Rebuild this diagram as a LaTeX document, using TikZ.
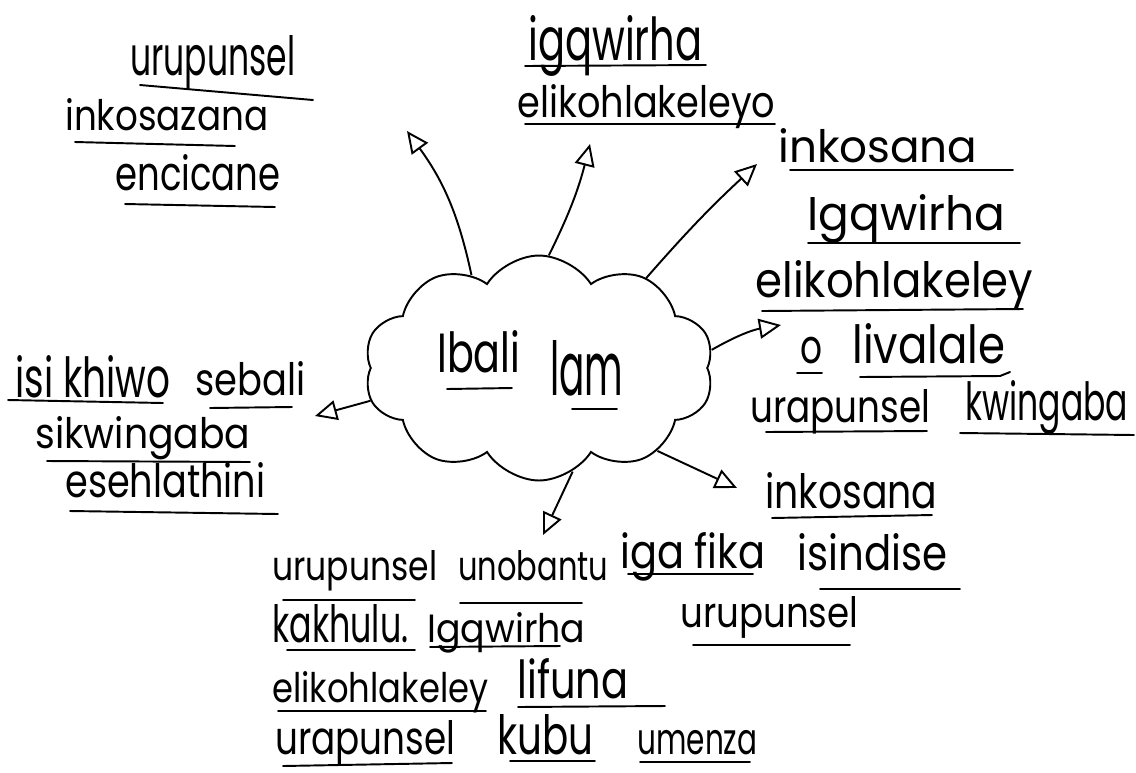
\documentclass[tikz,border=0pt]{standalone}
\usepackage{fontspec}
\usepackage{graphicx}
\usetikzlibrary{shapes.symbols,arrows.meta}
\newfontfamily\hand{Poppins}
\newlength\pix
\setlength\pix{0.02cm}
% word squeezed to the width and height it has in the sketch
\newcommand\fitw[3]{\resizebox{#1\pix}{#2\pix}{\hand\vphantom{lk}#3}}
\tikzset{
  word/.style={anchor=base west, inner sep=0pt},
  uline/.style={draw=black, line width=1.1pt, line cap=round},
  branch/.style={draw=black, line width=1.1pt,
    -{Triangle[open,length=0.44cm,width=0.40cm,line width=1.1pt]}},
  puff/.style={cloud, draw=black, line width=1.1pt, cloud puffs=10,
    cloud puff arc=115, aspect=1.6, minimum width=7.0cm, minimum height=4.5cm}
}

\begin{document}
\begin{tikzpicture}[x=0.02cm,y=-0.02cm]
  \useasboundingbox (0,0) rectangle (1136,772);
  \node[puff] (story) at (539,368) {};
  \node[word] (title1) at (437,372) {\fitw{83}{42}{Ibali}};
  \node[word] (title2) at (550,395) {\fitw{73}{55}{lam}};
  \draw[uline] (447,389) -- (512,388);
  \draw[uline] (572,409) -- (617,409);

  % top left
  \node[word] (tl1) at (130,75) {\fitw{165}{40}{urupunsel}};
  \node[word] (tl2) at (65,130) {\fitw{203}{32}{inkosazana}};
  \node[word] (tl3) at (115,190) {\fitw{165}{36}{encicane}};
  \draw[uline] (140,85) -- (313,100);
  \draw[uline] (75,142) -- (235,146);
  \draw[uline] (125,204) -- (275,207);

  % top middle
  \node[word] (tm1) at (528,60) {\fitw{174}{45}{igqwirha}};
  \node[word] (tm2) at (517,117) {\fitw{258}{33}{elikohlakeleyo}};
  \draw[uline] (525,66) -- (706,65);
  \draw[uline] (525,124) -- (775,124);

  % right
  \node[word] (tr1) at (778,162) {\fitw{199}{34}{inkosana}};
  \node[word] (tr2) at (807,230) {\fitw{198}{36}{Igqwirha}};
  \node[word] (tr3) at (755,297) {\fitw{278}{37}{elikohlakeley}};
  \node[word] (tr4) at (800,363) {\fitw{22}{35}{o}};
  \node[word] (tr5) at (852,363) {\fitw{153}{40}{livalale}};
  \node[word] (tr6) at (750,422) {\fitw{180}{33}{urapunsel}};
  \node[word] (tr7) at (965,420) {\fitw{163}{40}{kwingaba}};
  \draw[uline] (790,170) -- (1013,170);
  \draw[uline] (808,243) -- (1020,243);
  \draw[uline] (762,311) -- (1023,309);
  \draw[uline] (797,373) -- (822,373);
  \draw[uline] (860,377) -- (1000,376) -- (1010,372);
  \draw[uline] (766,432) -- (927,431);
  \draw[uline] (960,433) -- (1134,435);

  % left
  \node[word] (lf1) at (15,397) {\fitw{155}{42}{isi khiwo}};
  \node[word] (lf2) at (195,395) {\fitw{110}{34}{sebali}};
  \node[word] (lf3) at (35,448) {\fitw{215}{32}{sikwingaba}};
  \node[word] (lf4) at (65,497) {\fitw{200}{35}{esehlathini}};
  \draw[uline] (8,400) -- (163,403);
  \draw[uline] (210,408) -- (292,407);
  \draw[uline] (47,461) -- (250,462);
  \draw[uline] (70,511) -- (278,514);

  % bottom right
  \node[word] (br1) at (765,508) {\fitw{172}{36}{inkosana}};
  \node[word] (br2) at (620,568) {\fitw{145}{36}{iga fika}};
  \node[word] (br3) at (797,570) {\fitw{150}{37}{isindise}};
  \node[word] (br4) at (680,627) {\fitw{178}{31}{urupunsel}};
  \draw[uline] (772,518) -- (932,515);
  \draw[uline] (628,574) -- (753,574);
  \draw[uline] (820,589) -- (960,589);
  \draw[uline] (693,645) -- (850,645);

  % bottom
  \node[word] (bt1) at (272,580) {\fitw{165}{30}{urupunsel}};
  \node[word] (bt2) at (458,580) {\fitw{150}{30}{unobantu}};
  \node[word] (bt3) at (272,642) {\fitw{136}{38}{kakhulu.}};
  \node[word] (bt4) at (427,642) {\fitw{158}{30}{Igqwirha}};
  \node[word] (bt5) at (272,702) {\fitw{216}{31}{elikohlakeley}};
  \node[word] (bt6) at (517,698) {\fitw{111}{40}{lifuna}};
  \node[word] (bt7) at (275,754) {\fitw{180}{34}{urapunsel}};
  \node[word] (bt8) at (497,754) {\fitw{96}{40}{kubu}};
  \node[word] (bt9) at (637,754) {\fitw{120}{32}{umenza}};
  \draw[uline] (283,600) -- (415,600);
  \draw[uline] (460,603) -- (582,603);
  \draw[uline] (287,650) -- (415,650);
  \draw[uline] (430,647) -- (560,646);
  \draw[uline] (278,711) -- (486,711);
  \draw[uline] (518,707) -- (665,706);
  \draw[uline] (283,766) -- (452,763);
  \draw[uline] (510,761) -- (595,761);
  \draw[uline] (640,762) -- (750,762);

  % arrows out of the cloud
  \coordinate (tipA) at (407,131);
  \coordinate (tipB) at (590,144);
  \coordinate (tipC) at (757,164);
  \coordinate (tipD) at (781,325);
  \coordinate (tipE) at (315,416);
  \coordinate (tipF) at (543,535);
  \coordinate (tipG) at (737,488);
  \draw[branch] (story.126) to[bend right=12] (tipA);
  \draw[branch] (story.85) to[bend right=6] (tipB);
  \draw[branch] (story.40) to[bend left=3] (tipC);
  \draw[branch] (story.6) to[bend left=10] (tipD);
  \draw[branch] (story.191) to (tipE);
  \draw[branch] (story.288) to (tipF);
  \draw[branch] (story.325) to (tipG);
\end{tikzpicture}
\end{document}
